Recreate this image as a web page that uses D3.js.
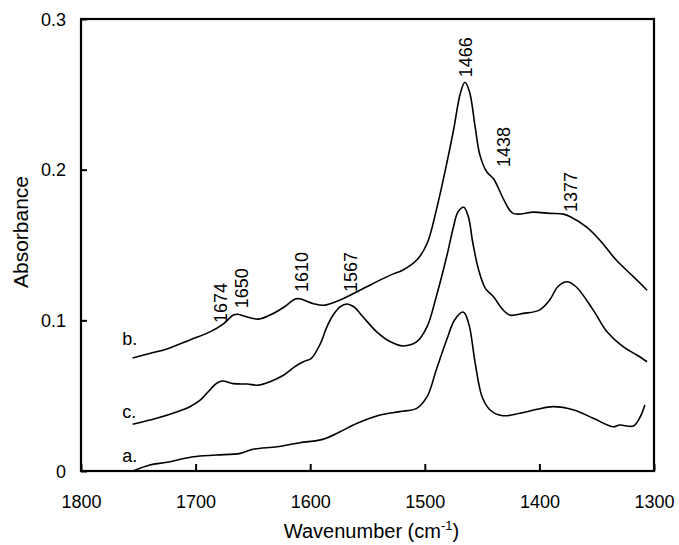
<!DOCTYPE html>
<html>
<head>
<meta charset="utf-8">
<script src="https://cdn.jsdelivr.net/npm/d3@7"></script>
<style>
  body { margin: 0; background: #fff; }
  text { font-family: Arial, "Liberation Sans", sans-serif; fill: #000; }
</style>
</head>
<body>
<svg class="chart"></svg>
<script>
// spectra (wavenumber in cm-1, absorbance)
const waveA = [1754,1740,1725,1702,1682,1661,1650,1629,1609,1589,1574,1559,1539,1522,1507,1498,1490,1481,1474,1467,1465,1461,1456,1450,1443,1432,1417,1402,1388,1370,1353,1336,1330,1318,1312,1308]
const absA  = [0.0002,0.004,0.0058,0.0095,0.0106,0.0117,0.0144,0.0161,0.0188,0.021,0.026,0.0317,0.0372,0.0394,0.0416,0.0493,0.067,0.0869,0.1002,0.1055,0.1046,0.0958,0.0715,0.0493,0.0405,0.0367,0.0383,0.041,0.0427,0.0405,0.035,0.0294,0.0305,0.0299,0.036,0.0438]

const waveB = [1755,1740,1725,1705,1687,1676,1667,1663,1655,1645,1635,1623,1613,1609,1597,1588,1574,1559,1545,1530,1519,1507,1498,1490,1482,1475,1469,1465,1461,1456,1452,1446,1440,1431,1423,1405,1391,1379,1373,1359,1347,1333,1318,1306]
const absB  = [0.075,0.078,0.081,0.087,0.0925,0.0975,0.1035,0.104,0.1022,0.1008,0.1035,0.1087,0.1142,0.1143,0.111,0.110,0.1135,0.119,0.1245,0.130,0.1334,0.140,0.151,0.173,0.200,0.226,0.2506,0.258,0.2517,0.228,0.210,0.1986,0.194,0.180,0.171,0.1718,0.171,0.1705,0.1688,0.162,0.153,0.140,0.129,0.120]

const waveC = [1755,1734,1716,1705,1696,1689,1682,1677,1667,1655,1645,1635,1623,1614,1606,1599,1591,1586,1580,1574,1568,1562,1554,1542,1530,1519,1507,1498,1490,1481,1475,1471,1466,1462,1458,1453,1447,1440,1433,1426,1414,1400,1391,1384,1376,1368,1353,1341,1327,1315,1306]
const absC  = [0.031,0.035,0.0394,0.0427,0.047,0.0526,0.058,0.0597,0.058,0.0577,0.057,0.0593,0.0637,0.069,0.0725,0.0748,0.0847,0.0947,0.1035,0.109,0.1108,0.109,0.1024,0.0924,0.0858,0.083,0.0858,0.0958,0.1157,0.142,0.162,0.172,0.175,0.1688,0.151,0.1334,0.121,0.1157,0.108,0.1035,0.1046,0.1068,0.1135,0.1223,0.1256,0.1223,0.1068,0.0924,0.0825,0.077,0.0725]

const xTicks = [1800,1700,1600,1500,1400,1300]
const yTicks = [0,0.1,0.2,0.3]

// curve names and where they are written (data units)
const seriesNames = ["a.","b.","c."]
const seriesLabelWave = [1764,1764,1764]
const seriesLabelAbs = [0.006,0.0836,0.0352]

// peak annotations: text, anchor wavenumber, anchor absorbance
const peakText = ["1674","1650","1610","1567","1466","1438","1377"]
const peakWave = [1672.6,1654.3,1602,1559.2,1458.8,1425.6,1367.2]
const peakAbs  = [0.0982,0.108,0.1188,0.1188,0.2614,0.2017,0.1719]

const margin = {top: 19, right: 25, bottom: 74, left: 81}
let width = 679 - margin.left - margin.right,
    height = 545 - margin.top - margin.bottom;

let x = d3.scaleLinear().domain([1800,1300]).range([0,width])
let y = d3.scaleLinear().domain([0,0.3]).range([height,0])

let svg = d3.select(".chart")
    .attr("width", 679)
    .attr("height", 545)
let chart = svg.append("g")
    .attr("transform", "translate(" + margin.left + "," + margin.top + ")");

let line = d3.line()
    .x(d => x(d[0]))
    .y(d => y(d[1]))
    .curve(d3.curveCatmullRom.alpha(0.5))

let series = [
  d3.zip(waveA, absA),
  d3.zip(waveB, absB),
  d3.zip(waveC, absC)
]

chart.selectAll(".spec")
    .data(series)
    .enter().append("path")
    .attr("class", "spec")
    .attr("d", line)
    .attr("fill", "none")
    .attr("stroke", "#000")
    .attr("stroke-width", 1.6)
    .attr("stroke-linejoin", "round")

// axes, ticks pointing inwards
let xAxis = chart.append("g")
    .attr("transform", "translate(0," + height + ")")
    .call(d3.axisBottom(x).tickValues(xTicks).tickSizeInner(-7).tickSizeOuter(0).tickFormat(d3.format("d")))
xAxis.selectAll("text").attr("y", 24).attr("dy", "0.71em").style("font-size", "18px")

let yAxis = chart.append("g")
    .call(d3.axisLeft(y).tickValues(yTicks).tickSizeInner(-6).tickSizeOuter(0).tickFormat(d => d === 0 ? "0" : d3.format(".1f")(d)))
yAxis.selectAll("text").attr("x", -15).attr("dy", "0.34em").style("font-size", "18px")

chart.selectAll(".domain").remove()
chart.selectAll(".tick line").attr("stroke", "#000").attr("stroke-width", 2)
chart.selectAll(".tick text").attr("fill", "#000").style("font-family", "Arial, 'Liberation Sans', sans-serif")

// frame
chart.append("rect")
    .attr("width", width)
    .attr("height", height)
    .attr("fill", "none")
    .attr("stroke", "#000")
    .attr("stroke-width", 2.2)

// curve labels
chart.selectAll(".sname")
    .data(seriesNames)
    .enter().append("text")
    .attr("x", (d,i) => x(seriesLabelWave[i]))
    .attr("y", (d,i) => y(seriesLabelAbs[i]))
    .style("font-size", "18px")
    .text(d => d)

// peak labels, rotated
chart.selectAll(".peak")
    .data(peakText)
    .enter().append("text")
    .attr("transform", (d,i) => "translate(" + x(peakWave[i]) + "," + y(peakAbs[i]) + ") rotate(-90)")
    .style("font-size", "18px")
    .text(d => d)

// axis titles
let xt = svg.append("text")
    .attr("x", margin.left + width/2 + 4)
    .attr("y", 538)
    .attr("text-anchor", "middle")
    .style("font-size", "20px")
xt.append("tspan").text("Wavenumber (cm")
xt.append("tspan").attr("dy", "-8").style("font-size", "13px").text("-1")
xt.append("tspan").attr("dy", "8").text(")")

svg.append("text")
    .attr("transform", "translate(28,232) rotate(-90)")
    .attr("text-anchor", "middle")
    .style("font-size", "21px")
    .text("Absorbance")
</script>
</body>
</html>
